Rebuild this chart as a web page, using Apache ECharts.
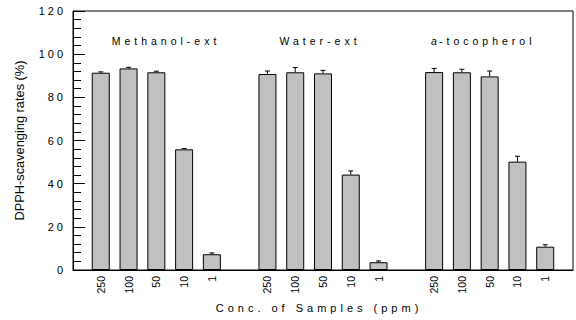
<!DOCTYPE html>
<html><head><meta charset="utf-8">
<script src="https://cdn.jsdelivr.net/npm/echarts@6/dist/echarts.min.js"></script>
<style>
html,body{margin:0;padding:0;background:#fff}
#c{width:576px;height:320px}
text[style*="Arimo"]{letter-spacing:4px}
text[style*="Cousine"]{letter-spacing:3px}
</style></head><body><div id="c"></div>
<script>
const concLabels = ['250', '100', '50', '10', '1'];
const groupNames = ['Methanol-ext', 'Water-ext', '-tocopherol'];
const alphaPrefix = 'a';
const methanol = [91.4, 93.4, 91.6, 55.9, 7.3];
const methanolErr = [0.4, 0.5, 0.5, 0.4, 0.6];
const water = [90.8, 91.6, 91.1, 44.2, 3.6];
const waterErr = [1.4, 2.2, 1.4, 1.7, 0.6];
const tocopherol = [91.7, 91.6, 89.7, 50.2, 10.8];
const tocopherolErr = [1.7, 1.4, 2.5, 2.5, 0.9];
const yMin = 0, yMax = 120, yStep = 20;
const yAxisTitle = 'DPPH-scavenging rates (%)';
const xAxisTitle = 'Conc. of Samples (ppm)';

// Build 19 category slots: gap, 5 bars, gap, 5 bars, gap, 5 bars, gap
const categories = [''];
const barData = ['-'];
const errData = [];
[[methanol, methanolErr], [water, waterErr], [tocopherol, tocopherolErr]].forEach(function (g) {
  g[0].forEach(function (v, i) {
    categories.push(concLabels[i]);
    barData.push(v);
    errData.push([categories.length - 1, v, g[1][i]]);
  });
  categories.push('');
  barData.push('-');
});

const SPACED = 'Liberation Sans, Arimo';
const SPACED3 = 'Liberation Sans, Cousine';
const PLAIN = 'Liberation Sans';

const chart = echarts.init(document.getElementById('c'), null, {renderer: 'svg'});
chart.setOption({
  animation: false,
  backgroundColor: '#fff',
  grid: {left: 73, right: 3, top: 11, bottom: 50, show: true, borderColor: '#000', borderWidth: 1, backgroundColor: 'transparent'},
  xAxis: {
    type: 'category', data: categories, boundaryGap: false,
    axisLine: {lineStyle: {color: '#000', width: 1}},
    axisTick: {show: false},
    axisLabel: {interval: 0, rotate: 90, margin: 6, fontSize: 10.5, fontFamily: PLAIN, color: '#000'},
    name: xAxisTitle, nameLocation: 'middle', nameGap: 32,
    nameTextStyle: {fontFamily: SPACED, fontSize: 11, color: '#000', padding: [0, 8, 0, 0]},
    splitLine: {show: false}
  },
  yAxis: {
    type: 'value', min: yMin, max: yMax, interval: yStep,
    axisLine: {show: true, lineStyle: {color: '#000', width: 1}},
    axisTick: {show: true, inside: true, length: 12, lineStyle: {color: '#000'}},
    minorTick: {show: true, splitNumber: 5, length: 8, lineStyle: {color: '#000'}},
    axisLabel: {margin: 7, fontSize: 11, fontFamily: SPACED3, color: '#000'},
    splitLine: {show: false},
    name: yAxisTitle, nameLocation: 'middle', nameGap: 47,
    nameTextStyle: {fontFamily: PLAIN, fontSize: 12.8, color: '#000'}
  },
  graphic: [
    {type: 'text', x: 166, y: 35, style: {text: groupNames[0], font: '10.5px ' + SPACED, fill: '#000', textAlign: 'center'}},
    {type: 'text', x: 320, y: 35, style: {text: groupNames[1], font: '10.5px ' + SPACED, fill: '#000', textAlign: 'center'}},
    {type: 'text', x: 431, y: 35, style: {text: alphaPrefix, font: 'italic 10.5px ' + PLAIN, fill: '#000', textAlign: 'left'}},
    {type: 'text', x: 439, y: 35, style: {text: groupNames[2], font: '10.5px ' + SPACED, fill: '#000', textAlign: 'left'}}
  ],
  series: [
    {
      type: 'bar', data: barData, barWidth: 18,
      itemStyle: {color: '#c0c0c0', borderColor: '#000', borderWidth: 1},
      z: 2
    },
    {
      type: 'custom', data: errData, z: 3,
      renderItem: function (params, api) {
        const x = api.value(0), v = api.value(1), e = api.value(2);
        const p0 = api.coord([x, v]);
        const p1 = api.coord([x, v + e]);
        return {type: 'group', children: [
          {type: 'line', shape: {x1: p0[0], y1: p0[1], x2: p1[0], y2: p1[1]}, style: {stroke: '#000', lineWidth: 1}},
          {type: 'line', shape: {x1: p1[0] - 2.5, y1: p1[1], x2: p1[0] + 2.5, y2: p1[1]}, style: {stroke: '#000', lineWidth: 1}}
        ]};
      }
    }
  ]
});
</script></body></html>
